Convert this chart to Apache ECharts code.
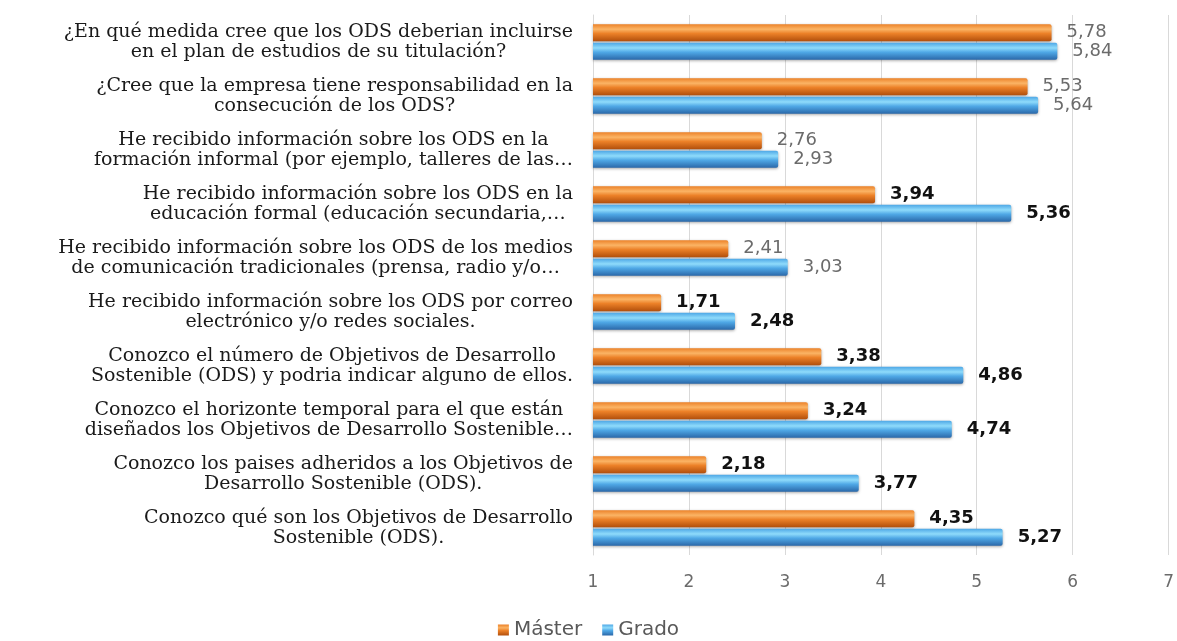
<!DOCTYPE html>
<html>
<head>
<meta charset="utf-8">
<title>ODS - Máster vs Grado</title>
<script src="https://cdn.jsdelivr.net/npm/echarts@6/dist/echarts.min.js"></script>
<style>
	html, body { margin: 0; padding: 0; background: #fff; }
	#chart { width: 1177px; height: 641px; }
</style>
</head>
<body>
<div id="chart"></div>
<script>
// categories, top to bottom as in the picture
const categories = [
	'¿En qué medida cree que los ODS deberian incluirse\nen el plan de estudios de su titulación?',
	'¿Cree que la empresa tiene responsabilidad en la\nconsecución de los ODS?',
	'He recibido información sobre los ODS en la\nformación informal (por ejemplo, talleres de las…',
	'He recibido información sobre los ODS en la\neducación formal (educación secundaria,…',
	'He recibido información sobre los ODS de los medios\nde comunicación tradicionales (prensa, radio y/o…',
	'He recibido información sobre los ODS por correo\nelectrónico y/o redes sociales.',
	'Conozco el número de Objetivos de Desarrollo\nSostenible (ODS) y podria indicar alguno de ellos.',
	'Conozco el horizonte temporal para el que están\ndiseñados los Objetivos de Desarrollo Sostenible…',
	'Conozco los paises adheridos a los Objetivos de\nDesarrollo Sostenible (ODS).',
	'Conozco qué son los Objetivos de Desarrollo\nSostenible (ODS).'
]
const master = [5.78, 5.53, 2.76, 3.94, 2.41, 1.71, 3.38, 3.24, 2.18, 4.35]
const grado = [5.84, 5.64, 2.93, 5.36, 3.03, 2.48, 4.86, 4.74, 3.77, 5.27]
const seriesNames = ['Máster', 'Grado']
const xMin = 1
const xMax = 7

// rows whose value labels are drawn plain grey instead of bold black
const plainLabelRows = [0, 1, 2, 4]

const chart = echarts.init(document.getElementById('chart'))

function grad(light, mid, dark) {
	return new echarts.graphic.LinearGradient(0, 0, 0, 1, [
		{ offset: 0, color: mid },
		{ offset: 0.3, color: light },
		{ offset: 0.55, color: mid },
		{ offset: 1, color: dark }
	])
}
const orange = grad('#FBB465', '#EC8128', '#B24F0C')
const blue = grad('#8FDBFB', '#4FA8E6', '#2A67A8')

function fmt(v) {
	return v.toFixed(2).replace('.', ',')
}

function makeSeries(name, values, color) {
	return {
		name: name,
		type: 'bar',
		barWidth: 17,
		barGap: '10%',
		data: values.map((v, i) => ({
			value: v,
			label: plainLabelRows.indexOf(i) >= 0
				? { color: '#6b6b6b', fontWeight: 'normal', fontSize: 18, fontFamily: 'DejaVu Sans' }
				: { color: '#111', fontWeight: 'bold', fontSize: 18, fontFamily: 'DejaVu Sans' }
		})),
		itemStyle: {
			color: color,
			borderRadius: [0, 2, 2, 0],
			shadowBlur: 3,
			shadowOffsetY: 1,
			shadowColor: 'rgba(0,0,0,0.35)'
		},
		label: {
			show: true,
			position: 'right',
			distance: 15,
			formatter: p => fmt(p.value)
		}
	}
}

chart.setOption({
	animation: false,
	backgroundColor: '#fff',
	grid: {
		left: 593,
		right: 3,
		top: 15,
		bottom: 86
	},
	legend: {
		bottom: -4,
		left: 'center',
		itemWidth: 11,
		itemHeight: 11,
		itemGap: 20,
		icon: 'rect',
		textStyle: {
			color: '#595959',
			fontSize: 20,
			fontFamily: 'DejaVu Sans'
		},
		data: seriesNames
	},
	xAxis: {
		type: 'value',
		min: xMin,
		max: xMax,
		interval: 1,
		axisLine: { show: false },
		axisTick: { show: false },
		splitLine: { lineStyle: { color: '#d9d9d9', width: 1 } },
		axisLabel: {
			color: '#6b6b6b',
			fontSize: 17,
			fontFamily: 'DejaVu Sans',
			margin: 19
		}
	},
	yAxis: {
		type: 'category',
		inverse: true,
		data: categories,
		axisLine: { show: true, lineStyle: { color: '#d9d9d9' } },
		axisTick: { show: false },
		axisLabel: {
			margin: 20,
			formatter: v => v.split('\n').map(l => '{c|' + l + '}').join('\n'),
			rich: {
				c: {
					align: 'center',
					color: '#1a1a1a',
					fontSize: 19,
					lineHeight: 20,
					fontFamily: 'DejaVu Serif'
				}
			}
		}
	},
	series: [
		makeSeries(seriesNames[0], master, orange),
		makeSeries(seriesNames[1], grado, blue)
	]
})
</script>
</body>
</html>
